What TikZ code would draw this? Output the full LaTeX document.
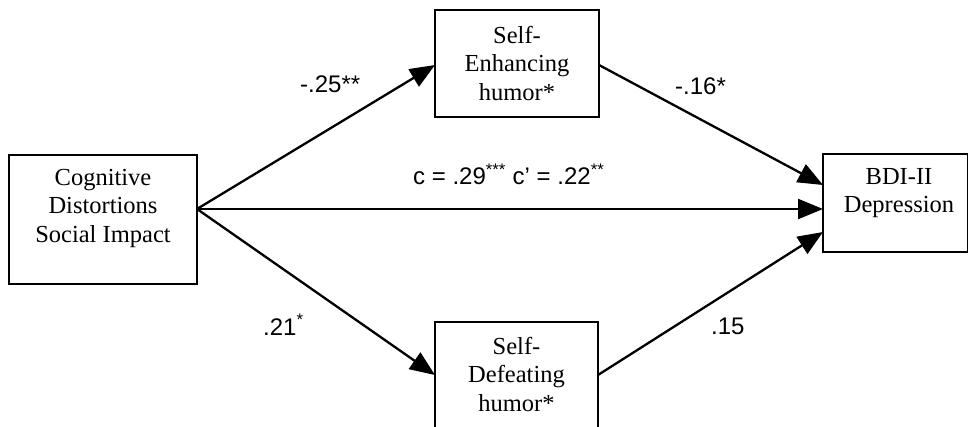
\documentclass[tikz,border=0pt]{standalone}
\usepackage{fontspec}
\setmainfont{Liberation Serif}
\newfontfamily\arialfont{Liberation Sans}
\usetikzlibrary{arrows.meta}
\begin{document}
\begin{tikzpicture}[x=1pt,y=-1pt,
  boxnode/.style={draw=black,line width=1.6pt,rectangle,inner sep=0pt},
  boxtext/.style={align=center,inner sep=0pt,font=\fontsize{24.5}{28.5}\selectfont},
  coef/.style={anchor=base west,inner sep=0pt,font=\arialfont\fontsize{24}{28}\selectfont},
  path/.style={line width=2.3pt,-{Triangle[length=25pt,width=20pt]}}
]
\useasboundingbox (0,0) rectangle (968,427);
% boxes
\node[boxnode,minimum width=188pt,minimum height=129pt] (cds) at (103,219.5) {};
\node[boxnode,minimum width=164pt,minimum height=107pt] (seh) at (517,63.5) {};
\node[boxnode,minimum width=163pt,minimum height=110pt] (sdh) at (516.5,377) {};
\node[boxnode,minimum width=145pt,minimum height=98pt] (bdi) at (895.5,203) {};
% texts
\node[boxtext] (cdst) at (103,208) {Cognitive\\Distortions\\Social Impact};
\node[boxtext] (seht) at (517,63) {Self-\\Enhancing\\humor*};
\node[boxtext] (sdht) at (516.5,374) {Self-\\Defeating\\humor*};
\node[boxtext] (bdit) at (899,193) {BDI-II\\Depression};
% connection points
\coordinate (src) at (197,209);
\coordinate (sehin) at (435,65);
\coordinate (sdhin) at (435,375);
\coordinate (sehout) at (599,65);
\coordinate (sdhout) at (598,375);
\coordinate (bdiA) at (823,185);
\coordinate (bdiB) at (823,209);
\coordinate (bdiC) at (823,232);
% arrows
\draw[path] (src) -- (sehin);
\draw[path] (src) -- (sdhin);
\draw[path] (src) -- (bdiB);
\draw[path] (sehout) -- (bdiA);
\draw[path] (sdhout) -- (bdiC);
% coefficients
\node[coef] (a1) at (300,93) {-.25**};
\node[coef] (b1) at (675,95) {-.16*};
\node[coef] (cc) at (413,185) {c = .29\textsuperscript{***} c’ = .22\textsuperscript{**}};
\node[coef] (a2) at (263,335) {.21\textsuperscript{*}};
\node[coef] (b2) at (711,334) {.15};
\end{tikzpicture}
\end{document}
